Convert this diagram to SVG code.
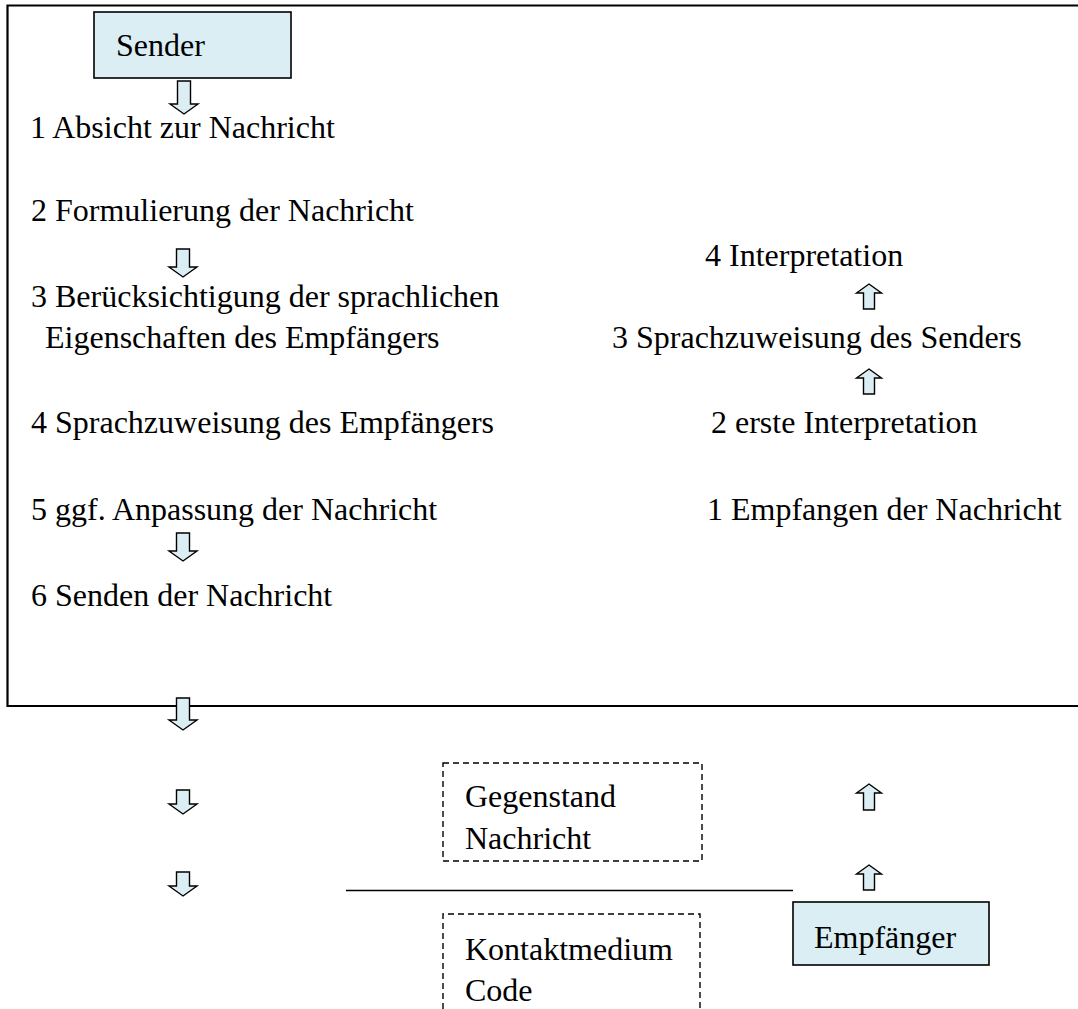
<svg xmlns="http://www.w3.org/2000/svg" width="1078" height="1009" viewBox="0 0 1078 1009">
<style>
text{font-family:"Liberation Serif","Times New Roman",serif;font-size:32px;fill:#000}
.box{fill:#DAEEF3;stroke:#000;stroke-width:1.6}
.dash{fill:none;stroke:#000;stroke-width:1.4;stroke-dasharray:6 4}
.arr{fill:#DAEEF3;stroke:#000;stroke-width:1.4;stroke-linejoin:miter}
.frame{fill:none;stroke:#000;stroke-width:2.2}
.line{stroke:#000;stroke-width:1.4}
</style>
<rect width="1078" height="1009" fill="#fff"/>
<g id="frame"><path class="frame" d="M1078 5.5 H7.5 V706 H1078"/></g>
<g id="sender"><rect class="box" x="94" y="12" width="197" height="66"/><text x="116" y="56">Sender</text></g>
<g id="s1"><text x="30" y="138">1 Absicht zur Nachricht</text></g>
<g id="s2"><text x="31" y="221">2 Formulierung der Nachricht</text></g>
<g id="s3"><text x="31" y="307">3 Berücksichtigung der sprachlichen</text><text x="45" y="348">Eigenschaften des Empfängers</text></g>
<g id="s4"><text x="31" y="433">4 Sprachzuweisung des Empfängers</text></g>
<g id="s5"><text x="31" y="520">5 ggf. Anpassung der Nachricht</text></g>
<g id="s6"><text x="31" y="606">6 Senden der Nachricht</text></g>
<g id="r4"><text x="705" y="266">4 Interpretation</text></g>
<g id="r3"><text x="612" y="348">3 Sprachzuweisung des Senders</text></g>
<g id="r2"><text x="711" y="433">2 erste Interpretation</text></g>
<g id="r1"><text x="707" y="520">1 Empfangen der Nachricht</text></g>
<g id="gegenstand"><path class="dash" d="M443 763 H702 V861 H443 Z"/><text x="465" y="807">Gegenstand</text><text x="465" y="849">Nachricht</text></g>
<g id="kontakt"><path class="dash" d="M443 1009 V914 H700 V1009"/><text x="465" y="960">Kontaktmedium</text><text x="465" y="1001">Code</text></g>
<g id="empfaenger"><rect class="box" x="793" y="902" width="196" height="63"/><text x="814" y="948">Empfänger</text></g>
<g id="connectors">
<line class="line" x1="346" y1="890.5" x2="793" y2="890.5"/>
<path class="arr" d="M177.5 81 H190.5 V104 H198 L184 114 L170 104 H177.5 Z"/>
<path class="arr" d="M176.5 249 H189.5 V267 H197 L183 277 L169 267 H176.5 Z"/>
<path class="arr" d="M176.5 533 H189.5 V551 H197 L183 561 L169 551 H176.5 Z"/>
<path class="arr" d="M176.5 698 H189.5 V720 H197 L183 730 L169 720 H176.5 Z"/>
<path class="arr" d="M176.5 790 H189.5 V804 H197 L183 814 L169 804 H176.5 Z"/>
<path class="arr" d="M176.5 872 H189.5 V886 H197 L183 896 L169 886 H176.5 Z"/>
<path class="arr" d="M869 284 L881.5 293 H874.5 V309 H863.5 V293 H856.5 Z"/>
<path class="arr" d="M869 369 L881.5 378 H874.5 V394 H863.5 V378 H856.5 Z"/>
<path class="arr" d="M869 784 L881.5 793 H874.5 V810 H863.5 V793 H856.5 Z"/>
<path class="arr" d="M869 865 L881.5 874 H874.5 V890 H863.5 V874 H856.5 Z"/>
</g>
</svg>
